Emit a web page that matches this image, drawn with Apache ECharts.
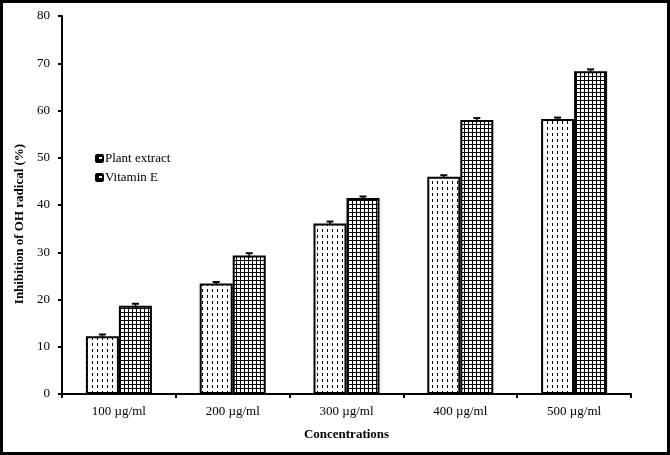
<!DOCTYPE html>
<html><head><meta charset="utf-8">
<script src="https://cdn.jsdelivr.net/npm/echarts@6/dist/echarts.min.js"></script>
<style>html,body{margin:0;padding:0;background:#fff}#c{width:670px;height:455px}</style>
</head><body><div id="c"></div>
<script>
const categories = ['100 µg/ml','200 µg/ml','300 µg/ml','400 µg/ml','500 µg/ml'];
const plantExtract = [12.2, 23.4, 36.1, 46.0, 58.2];
const vitaminE = [18.7, 29.3, 41.5, 58.0, 68.3];
const plantErr = [0.4, 0.3, 0.4, 0.3, 0.3];
const vitErr = [0.4, 0.5, 0.3, 0.4, 0.4];
const yTicks = [0,10,20,30,40,50,60,70,80];
const yTitle = 'Inhibition of OH radical (%)';
const xTitle = 'Concentrations';

function makeDots(){
  const c=document.createElement('canvas');c.width=5;c.height=6;
  const g=c.getContext('2d');g.fillStyle='#fff';g.fillRect(0,0,5,6);
  g.fillStyle='#000';g.fillRect(2,1,1,3);
  return c;
}
function makeGrid(){
  const c=document.createElement('canvas');c.width=4;c.height=4;
  const g=c.getContext('2d');g.fillStyle='#fff';g.fillRect(0,0,4,4);
  g.fillStyle='#000';g.fillRect(0,0,4,1);g.fillRect(0,0,1,4);
  return c;
}
function makeIcon(){
  const c=document.createElement('canvas');c.width=9;c.height=9;
  const g=c.getContext('2d');g.fillStyle='#000';
  g.beginPath();g.moveTo(2,0);g.lineTo(7,0);g.quadraticCurveTo(9,0,9,2);g.lineTo(9,7);g.quadraticCurveTo(9,9,7,9);
  g.lineTo(2,9);g.quadraticCurveTo(0,9,0,7);g.lineTo(0,2);g.quadraticCurveTo(0,0,2,0);g.fill();
  g.fillStyle='#fff';g.fillRect(4,3,3,2);
  return 'image://'+c.toDataURL();
}
const dotPat={image:makeDots(),repeat:'repeat'};
const gridPat={image:makeGrid(),repeat:'repeat'};
const legIcon=makeIcon();
const GAP=0.42;
function errRender(sign, vals, errs){
  return function(params, api){
    const i=api.value(0);
    const v=vals[i], e=errs[i];
    const band=api.size([1,0])[0];
    const off=sign*band*(1-GAP)/4;
    const top=api.coord([i, v+e]);
    const bot=api.coord([i, v-e]);
    const x=top[0]+off;
    return {type:'group',children:[
      {type:'line',shape:{x1:x,y1:top[1],x2:x,y2:bot[1]},style:{stroke:'#000',lineWidth:1.5}},
      {type:'line',shape:{x1:x-3.5,y1:top[1],x2:x+3.5,y2:top[1]},style:{stroke:'#000',lineWidth:2}}
    ]};
  };
}
const font="'Liberation Serif','Times New Roman',serif";
const chart=echarts.init(document.getElementById('c'),null,{renderer:'canvas'});
chart.setOption({
  animation:false,
  backgroundColor:'#fff',
  textStyle:{fontFamily:font,color:'#000'},
  grid:{left:62,right:39,top:16,bottom:61},
  legend:{
    orient:'vertical',left:90,top:147,itemGap:6,itemWidth:9,itemHeight:9,
    icon:legIcon,
    textStyle:{fontFamily:font,fontSize:13,color:'#000',padding:[0,0,0,-4]},
    data:['Plant extract','Vitamin E']
  },
  xAxis:{
    type:'category',data:categories,
    name:xTitle,nameLocation:'middle',nameGap:34,
    nameTextStyle:{fontFamily:font,fontSize:13,fontWeight:'bold',color:'#000'},
    axisLine:{lineStyle:{color:'#000',width:2}},
    axisTick:{show:true,length:4,lineStyle:{color:'#000',width:2}},
    axisLabel:{fontFamily:font,fontSize:13,color:'#000',margin:11}
  },
  yAxis:{
    type:'value',min:0,max:80,interval:10,
    axisLine:{show:true,lineStyle:{color:'#000',width:2}},
    axisTick:{show:true,length:4,lineStyle:{color:'#000',width:2}},
    axisLabel:{fontFamily:font,fontSize:13,color:'#000',margin:12,
      formatter:v=>yTicks.includes(v)?String(v):''},
    splitLine:{show:false}
  },
  series:[
    {name:'Plant extract',type:'bar',data:plantExtract,barGap:'0%',barCategoryGap:(GAP*100)+'%',
      itemStyle:{color:dotPat,borderColor:'#000',borderWidth:2}},
    {name:'Vitamin E',type:'bar',data:vitaminE,barGap:'0%',barCategoryGap:(GAP*100)+'%',
      itemStyle:{color:gridPat,borderColor:'#000',borderWidth:2}},
    {type:'custom',data:plantExtract.map((v,i)=>[i,v]),renderItem:errRender(-1,plantExtract,plantErr),z:5},
    {type:'custom',data:vitaminE.map((v,i)=>[i,v]),renderItem:errRender(1,vitaminE,vitErr),z:5}
  ],
  graphic:[
    {type:'rect',shape:{x:1.5,y:1.5,width:667,height:452},style:{fill:'none',stroke:'#000',lineWidth:3},silent:true},
    {type:'text',x:20,y:224,rotation:Math.PI/2,style:{text:yTitle,font:"bold 13px "+font,fill:'#000',align:'center',verticalAlign:'middle'},silent:true}
  ]
});
</script></body></html>
